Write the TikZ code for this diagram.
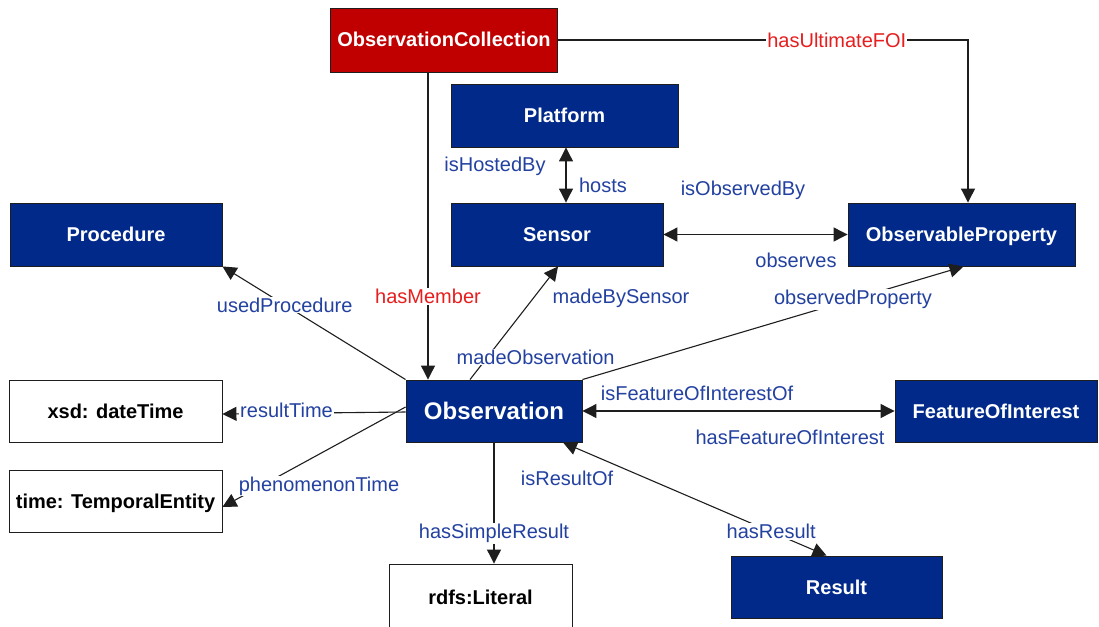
\documentclass[tikz,border=0pt]{standalone}
\usepackage{fontspec}
\setmainfont{Liberation Sans}
\usetikzlibrary{arrows.meta}

\definecolor{navy}{RGB}{0,41,138}
\definecolor{darkred}{RGB}{192,0,0}
\definecolor{lblblue}{RGB}{35,65,160}
\definecolor{lblred}{RGB}{230,30,30}
\definecolor{edge}{RGB}{30,30,30}

\tikzset{
  cls/.style={draw=edge, line width=0.9pt, fill=navy, text=white, inner sep=0pt,
    text height=14pt, text depth=0pt,
    font=\fontsize{20}{23}\selectfont\bfseries},
  collbox/.style={cls, fill=darkred},
  litbox/.style={cls, fill=white, text=black},
  lbl/.style={text=lblblue, inner sep=1pt, font=\fontsize{20}{23}\selectfont},
  rlbl/.style={lbl, text=lblred},
  onl/.style={fill=white},
  arr/.style={draw=edge, line width=1.1pt, -{Triangle[length=14pt,width=14pt]}},
  dblarr/.style={draw=edge, line width=1.1pt, {Triangle[length=14pt,width=14pt]}-{Triangle[length=14pt,width=14pt]}},
}

\begin{document}
\begin{tikzpicture}[x=1pt, y=-1pt]
\clip (0,0) rectangle (1099,626);
\fill[white] (0,0) rectangle (1099,626);

% classes
\node[collbox, minimum width=227pt, minimum height=64pt] (coll) at (444,40) {ObservationCollection};
\node[cls, minimum width=227pt, minimum height=63pt] (plat) at (564.5,115.5) {Platform};
\node[cls, minimum width=212pt, minimum height=63pt] (sens) at (557,234.5) {Sensor};
\node[cls, minimum width=227pt, minimum height=63pt] (oprop) at (961.5,234.5) {ObservableProperty};
\node[cls, minimum width=212pt, minimum height=63pt] (proc) at (116,234.5) {Procedure};
\node[cls, minimum width=176pt, minimum height=62pt, text height=17pt,
  font=\fontsize{24}{27}\selectfont\bfseries] (obs) at (494,411) {Observation};
\node[cls, minimum width=202pt, minimum height=62pt] (foi) at (996,411) {FeatureOfInterest};
\node[cls, minimum width=211pt, minimum height=62pt] (res) at (836.5,587) {Result};

% literal types
\node[litbox, minimum width=213pt, minimum height=62pt] (xsd) at (115.5,411) {xsd: dateTime};
\node[litbox, minimum width=213pt, minimum height=62pt] (temp) at (115.5,501) {time: TemporalEntity};
\node[litbox, minimum width=183pt, minimum height=66pt] (lit) at (480.5,597) {rdfs:Literal};

% collection links
\draw[arr] (coll.east) -| ([xshift=6.5pt]oprop.north)
  node[pos=0.34, rlbl, onl] {hasUltimateFOI};
\draw[arr] ([xshift=-16pt]coll.south) -- ([xshift=-66pt]obs.north)
  node[pos=0.73, rlbl, onl] {hasMember};

% platform / sensor / property
\draw[dblarr] ([xshift=1.5pt]plat.south) -- ([xshift=9pt]sens.north);
\node[lbl] (lhostedby) at (495,166) {isHostedBy};
\node[lbl] (lhosts) at (603,185) {hosts};
\draw[dblarr] (sens.east) -- (oprop.west);
\node[lbl] (lobsby) at (743,190) {isObservedBy};
\node[lbl] (lobserves) at (796,260) {observes};

% observation links
\draw[arr] (obs.north west) -- (proc.south east)
  node[pos=0.66, lbl, onl] {usedProcedure};
\draw[arr] ([xshift=-24pt]obs.north) -- ([xshift=1pt]sens.south)
  node[pos=0.2, lbl, onl, xshift=48pt] {madeObservation};
\node[lbl] (lmadeby) at (621,298) {madeBySensor};
\draw[arr] (obs.north east) -- ([xshift=2pt]oprop.south)
  node[pos=0.71, lbl, onl] {observedProperty};
\draw[dblarr] (obs.east) -- (foi.west);
\node[lbl] (lfoiof) at (697,393) {isFeatureOfInterestOf};
\node[lbl] (lhasfoi) at (790,437) {hasFeatureOfInterest};
\draw[arr] ([yshift=-1pt]obs.west) -- ([yshift=-3pt]xsd.east)
  node[pos=0.65, lbl, onl, yshift=3pt] {resultTime};
\draw[arr] ([yshift=4pt]obs.west) -- ([yshift=-6pt]temp.east);
\node[lbl, onl] (lphen) at (319,486) {phenomenonTime};
\draw[arr] (obs.south) -- (obs.south |- lit.north)
  node[pos=0.75, lbl, onl] {hasSimpleResult};
\draw[dblarr] ([xshift=69pt]obs.south) -- ([xshift=-10pt]res.north)
  node[pos=0.79, lbl, onl] {hasResult};
\node[lbl] (lresof) at (567,478) {isResultOf};
\end{tikzpicture}
\end{document}
